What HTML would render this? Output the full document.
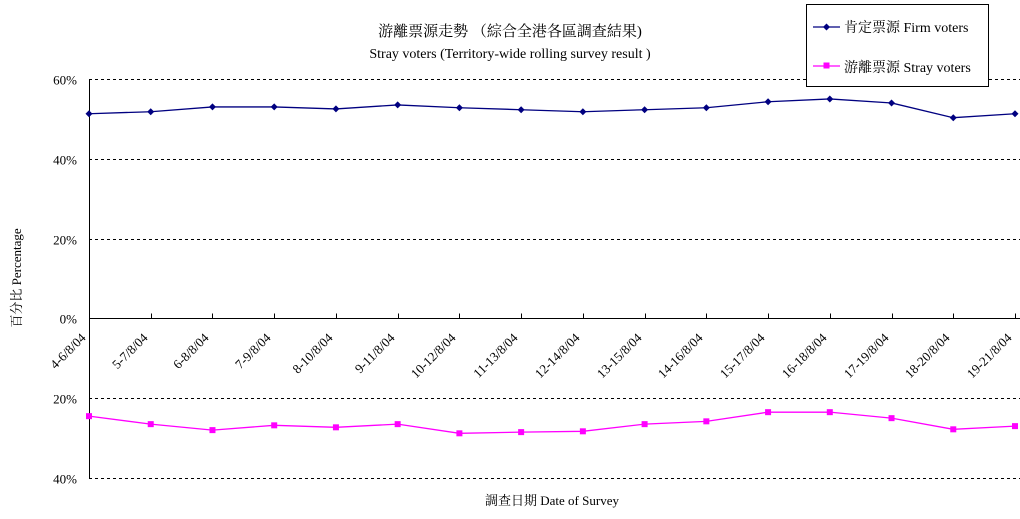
<!DOCTYPE html>
<html><head><meta charset="utf-8"><style>
body{margin:0;background:#fff;}
svg{display:block;font-family:"Liberation Serif","Noto Serif CJK SC","Noto Sans CJK TC",serif;}
</style></head><body>
<svg id="chart" width="1020" height="519" viewBox="0 0 1020 519" xmlns="http://www.w3.org/2000/svg">
<text x="510" y="36" text-anchor="middle" font-size="15">游離票源走勢 （綜合全港各區調查結果)</text>
<text x="510" y="58" text-anchor="middle" font-size="14">Stray voters (Territory-wide rolling survey result )</text>
<text transform="translate(21,278) rotate(-90)" text-anchor="middle" font-size="13">百分比 Percentage</text>
<text x="552" y="505" text-anchor="middle" font-size="13">調查日期 Date of Survey</text>
<g id="grid"></g><g id="axes"></g><g id="series"></g>
<g>
<rect x="806.5" y="4.5" width="182" height="82" fill="#fff" stroke="#000"/>
<g>
<line x1="813" y1="27" x2="840" y2="27" stroke="#000080" stroke-width="1.3"/>
<path d="M826.5 23.5 L830 27 L826.5 30.5 L823 27Z" fill="#000080"/>
<text x="844" y="32" font-size="14">肯定票源 Firm voters</text></g>
<g>
<line x1="813" y1="66" x2="840" y2="66" stroke="#ff00ff" stroke-width="1.3"/>
<rect x="823.5" y="62.5" width="6" height="6" fill="#ff00ff"/>
<text x="844" y="72" font-size="14">游離票源 Stray voters</text></g>
</g>
</svg>
<script>
const categories=["4-6/8/04","5-7/8/04","6-8/8/04","7-9/8/04","8-10/8/04","9-11/8/04","10-12/8/04","11-13/8/04","12-14/8/04","13-15/8/04","14-16/8/04","15-17/8/04","16-18/8/04","17-19/8/04","18-20/8/04","19-21/8/04"];
const firmVoters=[51.3,51.8,53,53,52.5,53.5,52.8,52.3,51.8,52.3,52.8,54.3,55,54,50.3,51.3];
const strayVoters=[-24.5,-26.5,-28,-26.8,-27.3,-26.5,-28.8,-28.5,-28.3,-26.5,-25.8,-23.5,-23.5,-25,-27.8,-27];
const yTicks=[60,40,20,0,-20,-40];
const yTickLabels=["60%","40%","20%","0%","20%","40%"];
const NS="http://www.w3.org/2000/svg";
const x0=89,x1=1015,yTop=79,yBot=478,vMax=60,vMin=-40;
const xs=i=>x0+(x1-x0)*i/(categories.length-1);
const ys=v=>yTop+(vMax-v)*(yBot-yTop)/(vMax-vMin);
function mk(t,a,p){const e=document.createElementNS(NS,t);for(const k in a)e.setAttribute(k,a[k]);p.appendChild(e);return e;}
const grid=document.getElementById('grid'),axes=document.getElementById('axes'),ser=document.getElementById('series');
yTicks.forEach((v,i)=>{
 const y=Math.round(ys(v))+0.5;
 if(v!==0){const l=mk('line',{x1:x0,x2:1020,y1:y,y2:y,stroke:'#000','stroke-dasharray':'3,3'},grid);
 
 }
 const t=mk('text',{x:x0-12,y:y+5,'text-anchor':'end','font-size':'13'},axes);t.textContent=yTickLabels[i];
 
 
});
const ya=mk('line',{x1:x0+0.5,x2:x0+0.5,y1:yTop,y2:yBot,stroke:'#000'},axes);


const y0=Math.round(ys(0))+0.5;
const xa=mk('line',{x1:x0,x2:1020,y1:y0,y2:y0,stroke:'#000'},axes);


categories.forEach((c,i)=>{
 const x=Math.round(xs(i))+0.5;
 mk('line',{x1:x,x2:x,y1:y0-5,y2:y0,stroke:'#000'},axes);
 const t=mk('text',{transform:`translate(${x-3},${y0+20}) rotate(-45)`,'text-anchor':'end','font-size':'13'},axes);
 t.textContent=c;
 
 
});
function line(vals,color,name,marker){
 const g=mk('g',{},ser);
 
 
 mk('polyline',{points:vals.map((v,i)=>xs(i)+','+ys(v)).join(' '),fill:'none',stroke:color,'stroke-width':'1.3'},g);
 vals.forEach((v,i)=>{const x=xs(i),y=ys(v);let m;
  if(marker==='d')m=mk('path',{d:`M${x} ${y-3.5}L${x+3.5} ${y}L${x} ${y+3.5}L${x-3.5} ${y}Z`,fill:color},g);
  else m=mk('rect',{x:x-3,y:y-3,width:6,height:6,fill:color},g);
  
  });
}
line(firmVoters,'#000080','firm-voters-series','d');
line(strayVoters,'#ff00ff','stray-voters-series','s');
</script>
</body></html>
